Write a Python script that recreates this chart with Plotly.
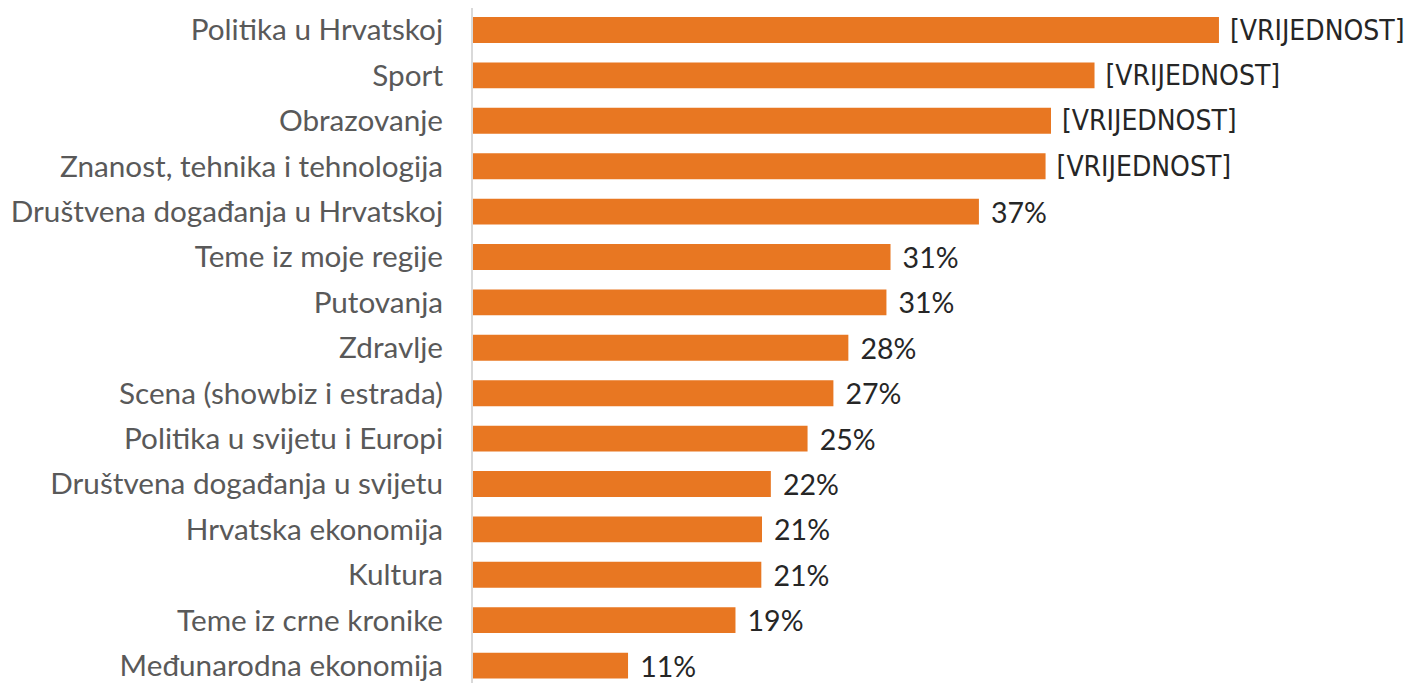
import plotly.graph_objects as go

categories = [
    "Politika u Hrvatskoj",
    "Sport",
    "Obrazovanje",
    "Znanost, tehnika i tehnologija",
    "Društvena događanja u Hrvatskoj",
    "Teme iz moje regije",
    "Putovanja",
    "Zdravlje",
    "Scena (showbiz i estrada)",
    "Politika u svijetu i Europi",
    "Društvena događanja u svijetu",
    "Hrvatska ekonomija",
    "Kultura",
    "Teme iz crne kronike",
    "Međunarodna ekonomija",
]
values = [54.85, 45.7, 42.5, 42.1, 37.2, 30.7, 30.4, 27.6, 26.5, 24.6, 21.9, 21.25, 21.2, 19.3, 11.4]
labels = ["[VRIJEDNOST]", "[VRIJEDNOST]", "[VRIJEDNOST]", "[VRIJEDNOST]",
          "37%", "31%", "31%", "28%", "27%", "25%", "22%", "21%", "21%", "19%", "11%"]

ph = [i for i, t in enumerate(labels) if t.startswith("[")]
pc = [i for i, t in enumerate(labels) if not t.startswith("[")]

fig = go.Figure()
fig.add_trace(go.Bar(
    y=[categories[i] for i in ph],
    x=[values[i] for i in ph],
    orientation="h",
    marker=dict(color="#E87722", line=dict(width=0)),
    text=[" " + labels[i] for i in ph],
    textposition="outside",
    constraintext="none",
    cliponaxis=False,
    textfont=dict(family="DejaVu Sans Condensed, Lato", size=28, color="#262626"),
    hoverinfo="skip",
))
fig.add_trace(go.Bar(
    y=[categories[i] for i in pc],
    x=[values[i] for i in pc],
    orientation="h",
    marker=dict(color="#E87722", line=dict(width=0)),
    text=[" \u200a" + labels[i] for i in pc],
    textposition="outside",
    constraintext="none",
    cliponaxis=False,
    textfont=dict(family="Lato", size=28.5, color="#262626"),
    hoverinfo="skip",
))

fig.update_layout(
    width=1413, height=683,
    margin=dict(l=465, r=0, t=0, b=0),
    paper_bgcolor="white", plot_bgcolor="white",
    bargap=0.43,
    barmode="overlay",
    showlegend=False,
    font=dict(family="Lato, sans-serif"),
)
fig.update_xaxes(range=[0, 948 / 13.6], visible=False, showgrid=False, zeroline=False)
fig.update_yaxes(
    type="category",
    categoryorder="array",
    categoryarray=categories,
    range=[14.56, -0.485],
    automargin=False,
    showline=True, linecolor="#D9D9D9", linewidth=2,
    ticks="", showgrid=False,
    ticklabelstandoff=22,
    tickfont=dict(family="Lato, sans-serif", size=29.7, color="#595959"),
)

fig.write_html("out.html")
